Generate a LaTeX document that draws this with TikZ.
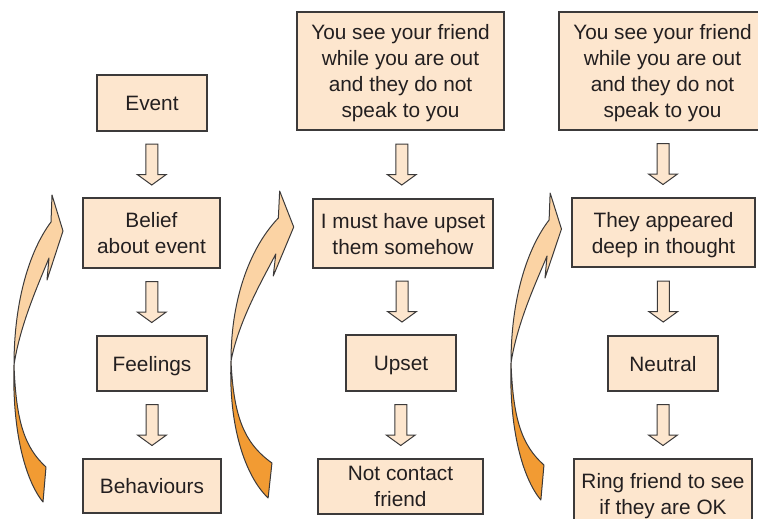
\documentclass[tikz,border=0pt]{standalone}
\usepackage{fontspec}
\setmainfont{Liberation Sans}
\definecolor{boxfill}{HTML}{FDE6CE}
\definecolor{boxline}{HTML}{3C3A3A}
\definecolor{loopup}{HTML}{FBD3A4}
\definecolor{loopdown}{HTML}{F29B33}
\definecolor{txt}{HTML}{231F20}

% hollow block arrow between two boxes
\newcommand{\blockdown}[2]{%
  \path (#1.south) -- coordinate[midway] (mid) (#2.north);
  \draw[arrowbox,shift={(mid)}] (-6,-20.5) -- (6,-20.5) -- (6,10) -- (14.5,10)
    -- (0,20.5) -- (-14.5,10) -- (-6,10) -- cycle;}

% twisted loop arrow, origin at the twist
\newcommand{\looparrow}[3]{%
  \begin{scope}[shift={(#1,#2)},xscale=#3]
  \draw[loopline,fill=loopup] (0,0) .. controls (0,-65) and (16,-115) .. (37,-143)
    -- (38,-170) -- (49,-134) -- (33,-85) -- (35,-107)
    .. controls (24,-80) and (6,-40) .. (0,0);
  \draw[loopline,fill=loopdown] (0,0) .. controls (-2,65) and (11,115) .. (29,137)
    -- (32,102) .. controls (10,82) and (2,55) .. (0,0);
  \end{scope}}

\begin{document}
\begin{tikzpicture}[x=1pt,y=-1pt,
  box/.style={draw=boxline,line width=1.2pt,fill=boxfill,text=txt,align=center,
    inner sep=0pt,text depth=0pt,font=\fontsize{20.8}{26}\selectfont},
  arrowbox/.style={draw=boxline,line width=1pt,fill=boxfill},
  loopline/.style={draw=boxline,line width=1pt,line join=round}]
\useasboundingbox (0,0) rectangle (758,519);
\clip (0,0) rectangle (758,519);

% general model
\node[box,minimum width=110pt,minimum height=56pt] (event) at (152,103) {Event};
\node[box,minimum width=137pt,minimum height=70pt] (belief) at (151.5,233) {Belief\\about event};
\node[box,minimum width=110pt,minimum height=55pt] (feel) at (152,363.5) {Feelings};
\node[box,minimum width=138pt,minimum height=54pt] (behav) at (152,486) {Behaviours};

% first example
\node[box,minimum width=207pt,minimum height=118pt] (see2) at (400.5,71)
  {You see your friend\\while you are out\\and they do not\\speak to you};
\node[box,minimum width=180pt,minimum height=69pt] (upsetthem) at (403,233.5)
  {I must have upset\\them somehow};
\node[box,minimum width=110pt,minimum height=56pt] (upset) at (401,363) {Upset};
\node[box,minimum width=165pt,minimum height=55pt] (nocontact) at (400.5,486.5)
  {Not contact\\friend};

% second example
\node[box,minimum width=207pt,minimum height=118pt] (see3) at (662.5,71)
  {You see your friend\\while you are out\\and they do not\\speak to you};
\node[box,minimum width=183pt,minimum height=69pt] (thought) at (663.5,232.5)
  {They appeared\\deep in thought};
\node[box,minimum width=110pt,minimum height=55pt] (neutral) at (663,363.5) {Neutral};
\node[box,minimum width=178pt,minimum height=69pt] (ring) at (663,493.5)
  {Ring friend to see\\if they are OK};

\blockdown{event}{belief}
\blockdown{belief}{feel}
\blockdown{feel}{behav}
\blockdown{see2}{upsetthem}
\blockdown{upsetthem}{upset}
\blockdown{upset}{nocontact}
\blockdown{see3}{thought}
\blockdown{thought}{neutral}
\blockdown{neutral}{ring}

\looparrow{14}{365}{1}
\looparrow{231}{361}{1.28}
\looparrow{511}{363}{1.03}
\end{tikzpicture}
\end{document}
